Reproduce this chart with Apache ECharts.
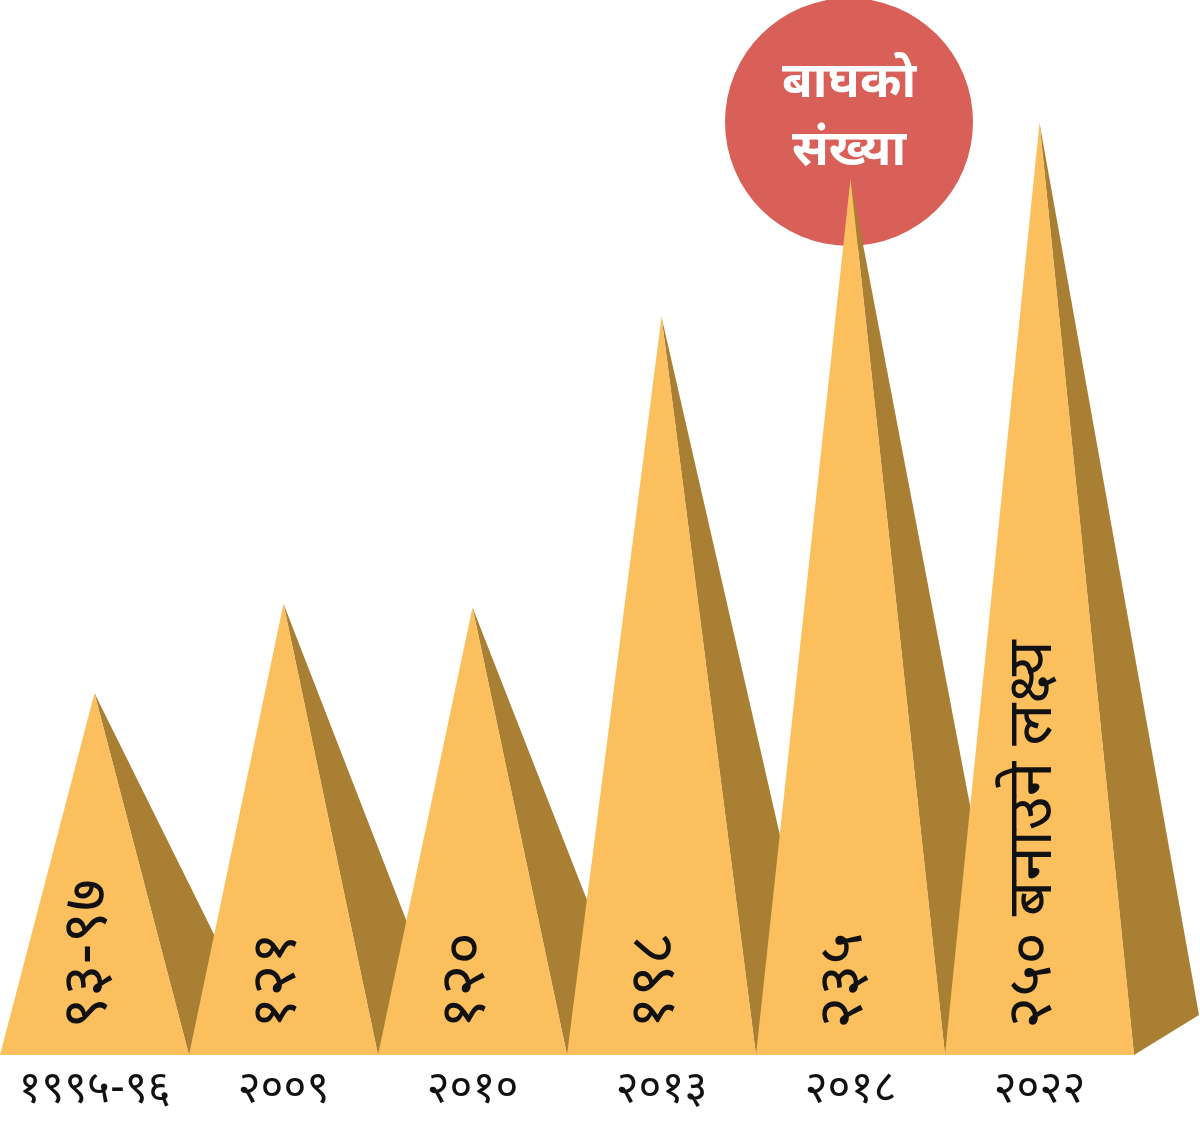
<!DOCTYPE html>
<html>
<head>
<meta charset="utf-8">
<script src="https://cdn.jsdelivr.net/npm/echarts@6/dist/echarts.min.js"></script>
<style>
  html, body { margin: 0; padding: 0; background: #fff; }
  #main { width: 1200px; height: 1124px; }
</style>
</head>
<body>
<div id="main"></div>
<script>
;(function () {
  const years = ['१९९५-९६', '२००९', '२०१०', '२०१३', '२०१८', '२०२२']
  const tigers = [97, 121, 120, 198, 235, 250]
  const labels = ['९३-९७', '१२१', '१२०', '१९८', '२३५', '२५० बनाउने लक्ष्य']
  const title = ['बाघको', 'संख्या']

  const font = '"Noto Sans Devanagari", "Noto Sans", sans-serif'
  const front = '#FCBF5D'
  const side = '#A98033'

  function renderItem(params, api) {
    const i = api.value(0)
    const apex = api.coord([i, api.value(1)])
    const base = api.coord([i, 0])
    const half = api.size([1, 0])[0] / 2
    return {
      type: 'group',
      children: [
        {
          type: 'polygon',
          shape: { points: [[base[0] + half, base[1]], [base[0] + half + 65, base[1] - 40], apex] },
          style: { fill: side },
        },
        {
          type: 'polygon',
          shape: { points: [[base[0] - half, base[1]], [base[0] + half, base[1]], apex] },
          style: { fill: front },
        },
        {
          type: 'text',
          x: base[0],
          y: base[1] - 26,
          rotation: Math.PI / 2,
          style: {
            text: labels[i],
            fill: '#111',
            font: '62px ' + font,
            align: 'left',
            verticalAlign: 'middle',
          },
        },
      ],
    }
  }

  const chart = echarts.init(document.getElementById('main'))
  chart.setOption({
    animation: false,
    grid: { left: 0, top: 11, width: 1134, bottom: 69 },
    xAxis: {
      type: 'category',
      data: years,
      axisLine: { show: false },
      axisTick: { show: false },
      axisLabel: {
        color: '#111',
        fontSize: 44,
        fontFamily: font,
        margin: 17,
        interval: 0,
        hideOverlap: false,
      },
    },
    yAxis: { type: 'value', min: 0, max: 280, show: false },
    graphic: [
      {
        type: 'circle',
        shape: { cx: 849, cy: 122, r: 124 },
        style: { fill: '#D95F59' },
        z: 0,
      },
      {
        type: 'text',
        x: 849,
        y: 88,
        style: { text: title[0], fill: '#fff', font: 'bold 50px ' + font, align: 'center', verticalAlign: 'middle' },
        z: 1,
      },
      {
        type: 'text',
        x: 849,
        y: 156,
        style: { text: title[1], fill: '#fff', font: 'bold 50px ' + font, align: 'center', verticalAlign: 'middle' },
        z: 1,
      },
    ],
    series: [
      {
        type: 'custom',
        renderItem,
        data: tigers.map((v, i) => [i, v]),
        z: 5,
      },
    ],
  })
})()
</script>
</body>
</html>
